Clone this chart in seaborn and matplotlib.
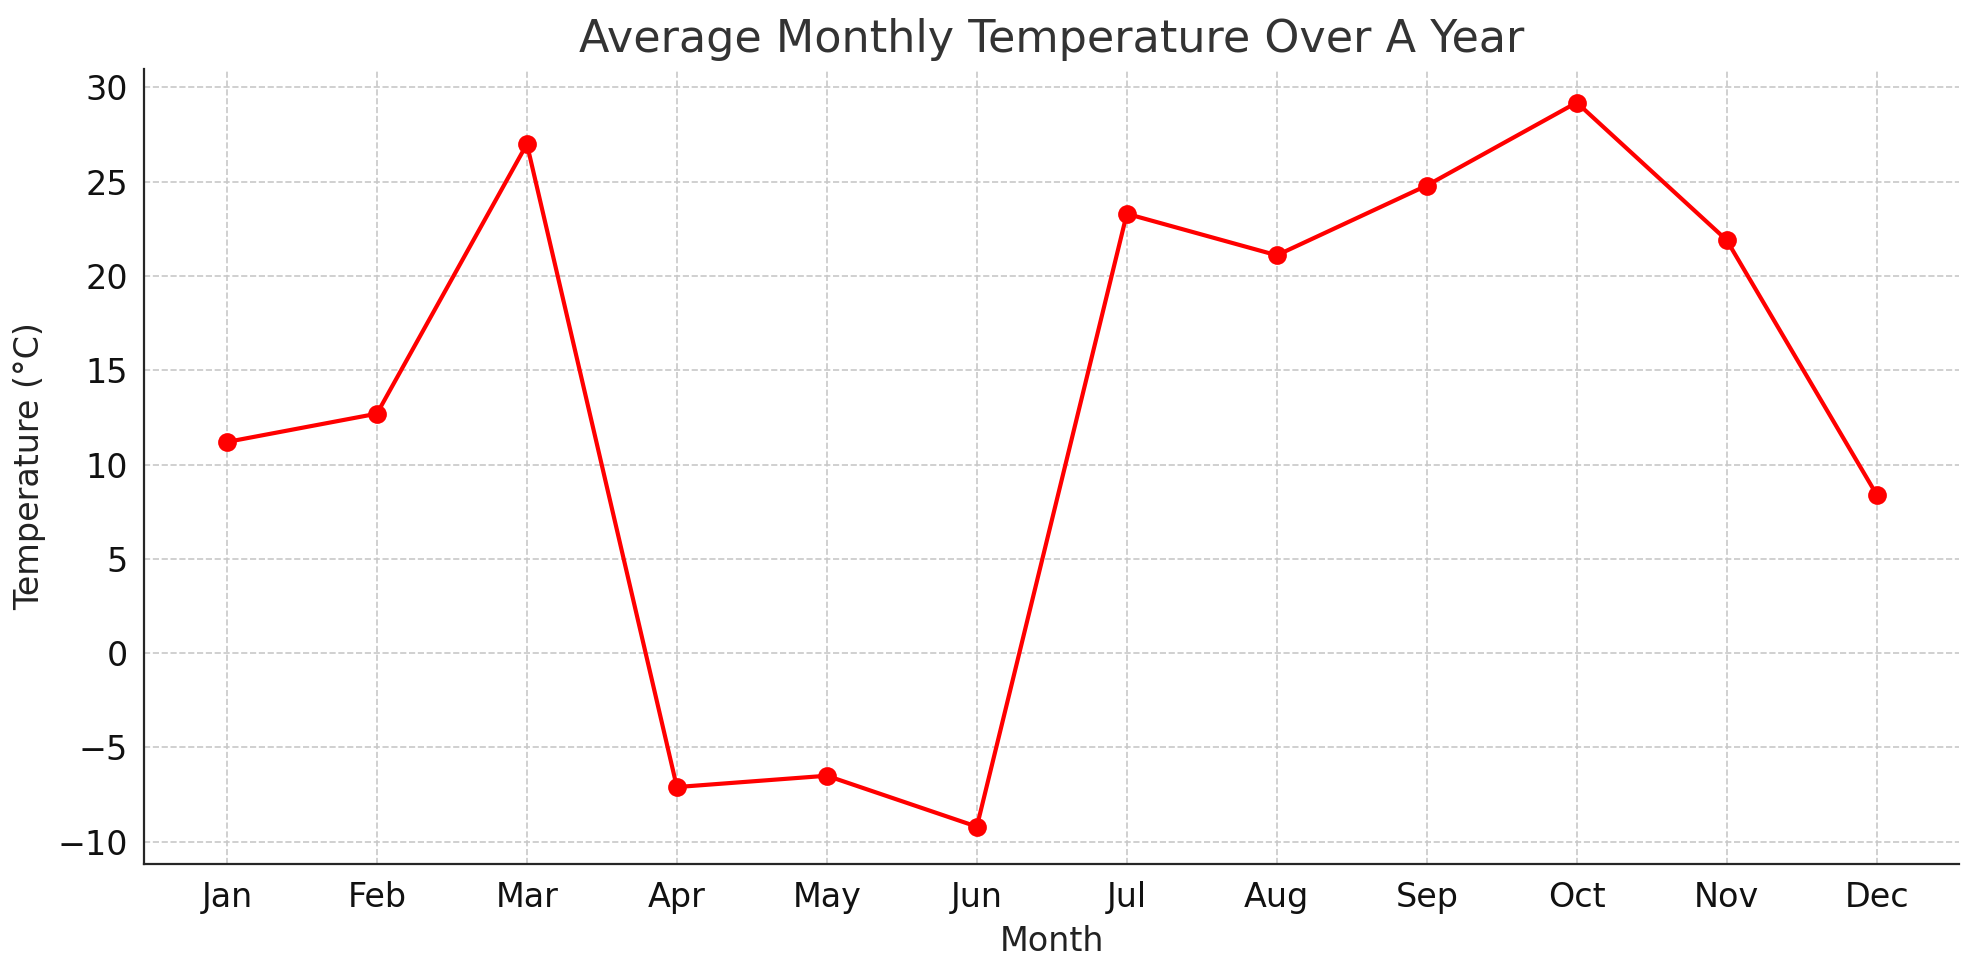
import matplotlib
matplotlib.use("Agg")
import matplotlib.pyplot as plt
import seaborn as sns
import pandas as pd

months = ["Jan","Feb","Mar","Apr","May","Jun","Jul","Aug","Sep","Oct","Nov","Dec"]
temps = [11.2, 12.7, 27.0, -7.1, -6.5, -9.2, 23.3, 21.1, 24.8, 29.2, 21.9, 8.4]
yticks = [-10, -5, 0, 5, 10, 15, 20, 25, 30]

sns.set_style("ticks")
plt.rcParams['font.family'] = ['DejaVu Sans']
df = pd.DataFrame({"Month": months, "Temp": temps})

fig, ax = plt.subplots(figsize=(1979/200, 980/200), dpi=200)
sns.lineplot(data=df, x="Month", y="Temp", color="red", marker="o", markersize=6,
             markeredgecolor="red", linewidth=1.5, ax=ax, sort=False)
ax.grid(True, linestyle="--", linewidth=0.6, color="#c8c8c8")
ax.set_yticks(yticks)
ax.set_ylim(-11.2, 31)
ax.set_xlim(-0.55, 11.55)
ax.set_title("Average Monthly Temperature Over A Year", fontsize=16, color="#333333")
ax.set_xlabel("Month", fontsize=12, color="#222222")
ax.set_ylabel("Temperature (°C)", fontsize=12, color="#222222")
ax.tick_params(labelsize=12, length=0, pad=6, labelcolor="#111111")
sns.despine(ax=ax)
fig.tight_layout(pad=0.5)
fig.subplots_adjust(left=0.073, right=0.99, top=0.93, bottom=0.118)
fig.savefig("out.png", dpi=200)
